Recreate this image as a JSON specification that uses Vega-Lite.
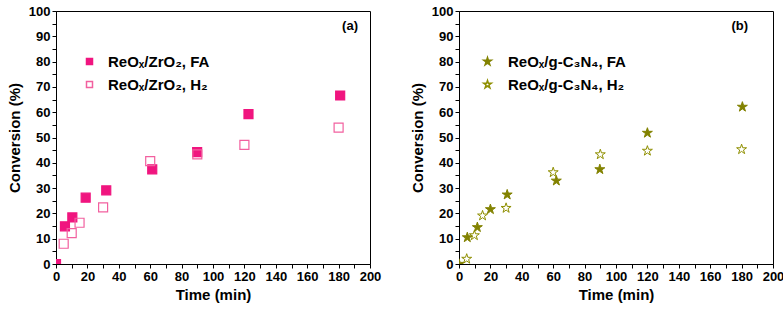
{
  "$schema": "https://vega.github.io/schema/vega-lite/v6.json",
  "background": "white",
  "padding": {"left": 6, "top": 4, "right": 2, "bottom": 4},
  "spacing": 27,
  "resolve": {
    "scale": {"shape": "independent", "fill": "independent", "stroke": "independent", "x": "independent", "y": "independent"},
    "legend": {"shape": "independent", "fill": "independent", "stroke": "independent"}
  },
  "config": {
    "font": "Liberation Sans",
    "view": {"stroke": "black", "strokeWidth": 1},
    "title": {"fontSize": 13, "fontWeight": "bold", "font": "Liberation Sans", "color": "black", "anchor": "end", "orient": "top", "offset": -28, "frame": "group"},
    "axis": {
      "domainColor": "black", "tickColor": "black", "labelColor": "black", "titleColor": "black",
      "labelFont": "Liberation Sans", "titleFont": "Liberation Sans",
      "labelFontWeight": "bold", "labelFontSize": 13, "titleFontSize": 15, "titleFontWeight": "bold",
      "grid": false, "ticks": true, "tickSize": 4, "labelPadding": 2, "domainWidth": 1, "tickWidth": 1, "labelOverlap": false
    },
    "legend": {"labelFont": "Liberation Sans, DejaVu Sans", "labelFontSize": 15, "labelFontWeight": "bold", "labelColor": "black"}
  },
  "hconcat": [
    {
      "width": 314, "height": 253,
      "title": {"text": "(a)", "dx": -12},
      "data": {"values": [
        {"t": 0, "c": 0, "s": "ReOₓ/ZrO₂, FA"},
        {"t": 5.7, "c": 14.9, "s": "ReOₓ/ZrO₂, FA"},
        {"t": 10.4, "c": 18.4, "s": "ReOₓ/ZrO₂, FA"},
        {"t": 18.9, "c": 26.2, "s": "ReOₓ/ZrO₂, FA"},
        {"t": 32, "c": 29.1, "s": "ReOₓ/ZrO₂, FA"},
        {"t": 61.3, "c": 37.4, "s": "ReOₓ/ZrO₂, FA"},
        {"t": 89.9, "c": 44.2, "s": "ReOₓ/ZrO₂, FA"},
        {"t": 122.6, "c": 59.2, "s": "ReOₓ/ZrO₂, FA"},
        {"t": 181, "c": 66.6, "s": "ReOₓ/ZrO₂, FA"},
        {"t": 4.9, "c": 8, "s": "ReOₓ/ZrO₂, H₂"},
        {"t": 10, "c": 12.2, "s": "ReOₓ/ZrO₂, H₂"},
        {"t": 15, "c": 16.3, "s": "ReOₓ/ZrO₂, H₂"},
        {"t": 30, "c": 22.4, "s": "ReOₓ/ZrO₂, H₂"},
        {"t": 60, "c": 40.7, "s": "ReOₓ/ZrO₂, H₂"},
        {"t": 90, "c": 43.3, "s": "ReOₓ/ZrO₂, H₂"},
        {"t": 120, "c": 47.1, "s": "ReOₓ/ZrO₂, H₂"},
        {"t": 180, "c": 53.9, "s": "ReOₓ/ZrO₂, H₂"}
      ]},
      "mark": {"type": "point", "size": 81, "strokeWidth": 1.2, "opacity": 1, "clip": true},
      "encoding": {
        "x": {"field": "t", "type": "quantitative", "scale": {"domain": [0, 200], "nice": false},
          "axis": {"title": "Time (min)", "values": [0,10,20,30,40,50,60,70,80,90,100,110,120,130,140,150,160,170,180,190,200],
            "labelExpr": "datum.value % 20 === 0 ? datum.label : ''", "labelFlush": false, "labelOverlap": false, "ticks": true, "tickSize": 4, "titlePadding": 4}},
        "y": {"field": "c", "type": "quantitative", "scale": {"domain": [0, 100], "nice": false},
          "axis": {"title": "Conversion (%)", "values": [0,5,10,15,20,25,30,35,40,45,50,55,60,65,70,75,80,85,90,95,100],
            "labelExpr": "datum.value % 10 === 0 ? datum.label : ''", "labelOverlap": false, "ticks": true, "tickSize": 4, "titlePadding": 6}},
        "shape": {"field": "s", "type": "nominal", "scale": {"domain": ["ReOₓ/ZrO₂, FA", "ReOₓ/ZrO₂, H₂"], "range": ["square", "square"]},
          "legend": {"title": null, "orient": "none", "legendX": 26, "legendY": 43, "symbolSize": 36, "labelOffset": 11, "rowPadding": 7}},
        "fill": {"field": "s", "type": "nominal", "scale": {"domain": ["ReOₓ/ZrO₂, FA", "ReOₓ/ZrO₂, H₂"], "range": ["#f0157f", "transparent"]},
          "legend": {"title": null, "orient": "none", "legendX": 26, "legendY": 43, "symbolSize": 36, "labelOffset": 11, "rowPadding": 7}},
        "stroke": {"field": "s", "type": "nominal", "scale": {"domain": ["ReOₓ/ZrO₂, FA", "ReOₓ/ZrO₂, H₂"], "range": ["#f0157f", "#f2609f"]},
          "legend": {"title": null, "orient": "none", "legendX": 26, "legendY": 43, "symbolSize": 36, "labelOffset": 11, "rowPadding": 7}}
      }
    },
    {
      "width": 314, "height": 253,
      "title": {"text": "(b)", "dx": -25},
      "data": {"values": [
        {"t": 0, "c": 0, "s": "ReOₓ/g-C₃N₄, FA"},
        {"t": 5.3, "c": 10.5, "s": "ReOₓ/g-C₃N₄, FA"},
        {"t": 11.7, "c": 14.5, "s": "ReOₓ/g-C₃N₄, FA"},
        {"t": 20, "c": 21.6, "s": "ReOₓ/g-C₃N₄, FA"},
        {"t": 30.7, "c": 27.4, "s": "ReOₓ/g-C₃N₄, FA"},
        {"t": 62, "c": 32.9, "s": "ReOₓ/g-C₃N₄, FA"},
        {"t": 89.7, "c": 37.4, "s": "ReOₓ/g-C₃N₄, FA"},
        {"t": 120, "c": 51.8, "s": "ReOₓ/g-C₃N₄, FA"},
        {"t": 180.5, "c": 62.1, "s": "ReOₓ/g-C₃N₄, FA"},
        {"t": 4.9, "c": 2, "s": "ReOₓ/g-C₃N₄, H₂"},
        {"t": 9.8, "c": 11.3, "s": "ReOₓ/g-C₃N₄, H₂"},
        {"t": 15, "c": 19.1, "s": "ReOₓ/g-C₃N₄, H₂"},
        {"t": 30, "c": 22.1, "s": "ReOₓ/g-C₃N₄, H₂"},
        {"t": 60, "c": 36.2, "s": "ReOₓ/g-C₃N₄, H₂"},
        {"t": 90, "c": 43.3, "s": "ReOₓ/g-C₃N₄, H₂"},
        {"t": 120, "c": 44.7, "s": "ReOₓ/g-C₃N₄, H₂"},
        {"t": 180, "c": 45.3, "s": "ReOₓ/g-C₃N₄, H₂"}
      ]},
      "mark": {"type": "point", "size": 110, "strokeWidth": 1, "opacity": 1, "clip": true},
      "encoding": {
        "x": {"field": "t", "type": "quantitative", "scale": {"domain": [0, 200], "nice": false},
          "axis": {"title": "Time (min)", "values": [0,10,20,30,40,50,60,70,80,90,100,110,120,130,140,150,160,170,180,190,200],
            "labelExpr": "datum.value % 20 === 0 ? datum.label : ''", "labelFlush": false, "labelOverlap": false, "ticks": true, "tickSize": 4, "titlePadding": 4}},
        "y": {"field": "c", "type": "quantitative", "scale": {"domain": [0, 100], "nice": false},
          "axis": {"title": "Conversion (%)", "values": [0,5,10,15,20,25,30,35,40,45,50,55,60,65,70,75,80,85,90,95,100],
            "labelExpr": "datum.value % 10 === 0 ? datum.label : ''", "labelOverlap": false, "ticks": true, "tickSize": 4, "titlePadding": 6}},
        "shape": {"field": "s", "type": "nominal", "scale": {"domain": ["ReOₓ/g-C₃N₄, FA", "ReOₓ/g-C₃N₄, H₂"],
          "range": ["M0,-1L0.225,-0.309L0.951,-0.309L0.363,0.118L0.588,0.809L0,0.382L-0.588,0.809L-0.363,0.118L-0.951,-0.309L-0.225,-0.309Z", "M0,-1L0.225,-0.309L0.951,-0.309L0.363,0.118L0.588,0.809L0,0.382L-0.588,0.809L-0.363,0.118L-0.951,-0.309L-0.225,-0.309Z"]},
          "legend": {"title": null, "orient": "none", "legendX": 21, "legendY": 43, "symbolSize": 64, "labelOffset": 13, "rowPadding": 7}},
        "fill": {"field": "s", "type": "nominal", "scale": {"domain": ["ReOₓ/g-C₃N₄, FA", "ReOₓ/g-C₃N₄, H₂"], "range": ["#828200", "transparent"]},
          "legend": {"title": null, "orient": "none", "legendX": 21, "legendY": 43, "symbolSize": 64, "labelOffset": 13, "rowPadding": 7}},
        "stroke": {"field": "s", "type": "nominal", "scale": {"domain": ["ReOₓ/g-C₃N₄, FA", "ReOₓ/g-C₃N₄, H₂"], "range": ["#828200", "#8f8f00"]},
          "legend": {"title": null, "orient": "none", "legendX": 21, "legendY": 43, "symbolSize": 64, "labelOffset": 13, "rowPadding": 7}}
      }
    }
  ]
}
